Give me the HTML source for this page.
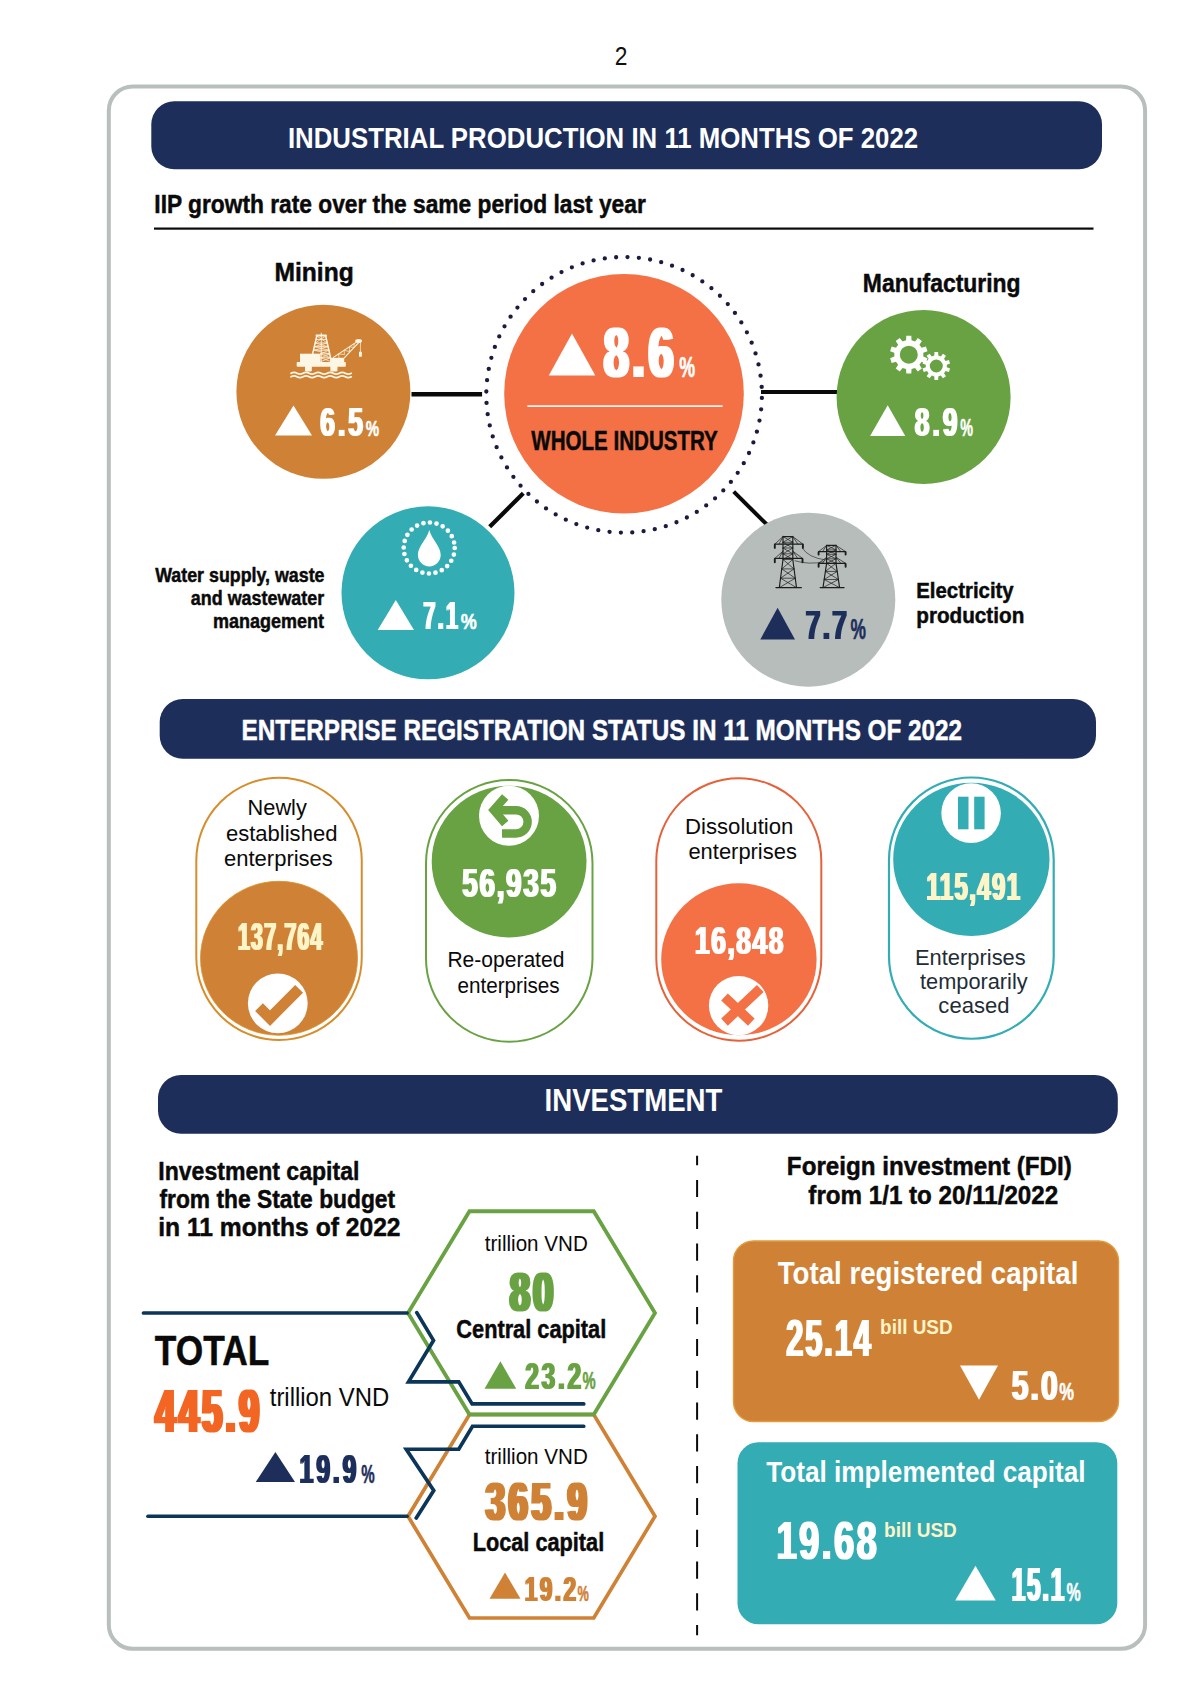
<!DOCTYPE html>
<html lang="en">
<head>
<meta charset="utf-8">
<title>Industrial production, enterprise registration and investment - 11 months of 2022</title>
<style>
html,body{margin:0;padding:0;background:#fff}
body{width:1200px;height:1697px;overflow:hidden}
svg{display:block;font-family:"Liberation Sans",sans-serif}
.s{stroke-width:0.45px;vector-effect:non-scaling-stroke;stroke-linejoin:round}
</style>
</head>
<body>
<svg width="1200" height="1697" viewBox="0 0 1200 1697">
<defs>
<filter id="fat2" x="-5%" y="-10%" width="110%" height="120%"><feMorphology operator="dilate" radius="1 0"/></filter>
<filter id="fat3" x="-5%" y="-10%" width="110%" height="120%"><feMorphology operator="dilate" radius="2 0"/></filter>
</defs>
<!-- outer frame -->
<rect x="108.8" y="86.5" width="1036.3" height="1562.3" rx="24" ry="24" fill="#fff" stroke="#b8bfbd" stroke-width="4"/>

<!-- section banners -->
<rect x="151.3" y="101.3" width="950.7" height="67.9" rx="23" fill="#1e2e5b"/>
<rect x="159.7" y="699" width="936.3" height="59.8" rx="23" fill="#1e2e5b"/>
<rect x="158" y="1075" width="959.8" height="58.8" rx="23" fill="#1e2e5b"/>

<!-- heading rule -->
<rect x="154" y="227.5" width="939.5" height="2.2" fill="#0a0a0a"/>

<!-- connectors -->
<g stroke="#0a0a0a" stroke-width="4" fill="none">
<line x1="411.5" y1="394.3" x2="482.1" y2="394.3" stroke-width="4.4"/>
<line x1="761" y1="392" x2="838" y2="392"/>
<line x1="489.7" y1="526.7" x2="523.3" y2="493.2" stroke-width="4.2"/>
<line x1="733.7" y1="491.7" x2="767.3" y2="525"/>
</g>

<!-- IIP circles -->
<circle cx="323.4" cy="391.8" r="87" fill="#cf8235"/>
<circle cx="624" cy="393.7" r="119.8" fill="#f37145"/>
<circle cx="624.1" cy="394.8" r="137.8" fill="none" stroke="#1b1b3f" stroke-width="4.3" stroke-linecap="round" stroke-dasharray="0 11.3925" transform="rotate(1.3 624.1 394.8)"/>
<circle cx="923.6" cy="397" r="87" fill="#69a243"/>
<circle cx="428" cy="592.8" r="86.5" fill="#33acb4"/>
<circle cx="808.3" cy="599.7" r="87" fill="#b6bdbb"/>
<rect x="527.3" y="405.3" width="195.3" height="1.6" fill="#fff"/>

<!-- growth triangles -->
<path d="M275 435.5L293.5 405.5L312 435.5Z" fill="#fff"/>
<path d="M548.8 375.6L572 333.5L595.3 375.6Z" fill="#fff"/>
<path d="M870.1 435.9L887.7 405.2L905.3 435.9Z" fill="#fff"/>
<path d="M377.7 630L395.8 600L414 630Z" fill="#fff"/>
<path d="M760.3 639.4L777.6 607.8L795 639.4Z" fill="#1e2e5b"/>

<!-- enterprise pills -->
<rect x="196.3" y="777.8" width="165.45" height="262.2" rx="82.7" fill="#fff" stroke="#d68d2c" stroke-width="2"/>
<ellipse cx="279" cy="958.3" rx="78.5" ry="77" fill="#cf8235" stroke="#dc922a" stroke-width="0.8"/>
<circle cx="277.8" cy="1003.3" r="29.9" fill="#fff"/>
<rect x="426" y="780" width="166.5" height="261.75" rx="83.2" fill="#fff" stroke="#69a243" stroke-width="2"/>
<ellipse cx="509.1" cy="861.6" rx="77.4" ry="75.9" fill="#69a243"/>
<circle cx="509" cy="815.8" r="30" fill="#fff"/>
<rect x="656.3" y="778.25" width="165" height="262.45" rx="82.5" fill="#fff" stroke="#e5613a" stroke-width="2"/>
<ellipse cx="738.9" cy="959.3" rx="77.7" ry="76" fill="#f37145"/>
<circle cx="738.6" cy="1005.6" r="29.7" fill="#fff"/>
<rect x="889" y="777.5" width="164.7" height="261.25" rx="82.35" fill="#fff" stroke="#33acb4" stroke-width="2.2"/>
<ellipse cx="971.35" cy="859.3" rx="78.15" ry="76.6" fill="#33acb4"/>
<circle cx="971.1" cy="813.1" r="29.8" fill="#fff"/>
<rect x="958" y="796.7" width="10.5" height="32.6" fill="#33acb4"/>
<rect x="974.2" y="796.7" width="10.4" height="32.6" fill="#33acb4"/>

<!-- investment: hexagons and rails -->
<path d="M408 1516.25L469.5 1414.5L593.75 1414.5L655 1516.25L593.75 1618L469.5 1618Z" fill="none" stroke="#cf8235" stroke-width="3.7" stroke-linejoin="miter"/>
<path d="M408 1313L469.5 1211.25L593.75 1211.25L655 1313L593.75 1414.5L469.5 1414.5Z" fill="none" stroke="#69a243" stroke-width="3.8" stroke-linejoin="miter"/>
<g fill="none" stroke="#0b3659" stroke-width="3.7" stroke-linecap="round" stroke-linejoin="miter">
<path d="M143.5 1313L407 1313"/>
<path d="M416.8 1312.6L433.5 1340.4L408.5 1381.8L458.75 1381.8L472.1 1403.9L583.75 1403.9"/>
<path d="M583.75 1426.25L472.5 1426.25L458.75 1449.25L406.25 1449.25L433.75 1490.5L416.25 1518"/>
<path d="M148 1516.25L407 1516.25"/>
</g>
<path d="M484.5 1388.75L500.4 1361.25L516.25 1388.75Z" fill="#69a243"/>
<path d="M489.5 1598.75L505 1572.5L520.5 1598.75Z" fill="#cf8235"/>
<path d="M255.75 1482L275.4 1452L295 1482Z" fill="#1e2e5b"/>

<!-- divider -->
<line x1="697.1" y1="1155.8" x2="697.1" y2="1635.2" stroke="#0a0a0a" stroke-width="2" stroke-dasharray="17.2 14.6" stroke-dashoffset="7.7"/>

<!-- FDI cards -->
<rect x="733.5" y="1241" width="385" height="180.5" rx="20" fill="#cf8235" stroke="#e39a3c" stroke-width="1.4"/>
<rect x="737.5" y="1442.25" width="379.8" height="182" rx="21" fill="#33acb4"/>
<path d="M960 1365.5L998 1365.5L979 1399.7Z" fill="#fff"/>
<path d="M955.2 1600.5L975.5 1565.8L995.8 1600.5Z" fill="#fff"/>

<!-- icon: offshore rig -->
<g fill="#fdf6e4" stroke="none">
<rect x="296.7" y="362" width="49.1" height="4.8" rx="0.8"/>
<rect x="305" y="366" width="6.8" height="5.4" rx="1.2"/>
<rect x="330.4" y="366" width="7.1" height="5.4" rx="1.2"/>
<rect x="300" y="353.7" width="20.6" height="8.6"/>
<rect x="330" y="357.8" width="14.2" height="4.6"/>
<rect x="315.6" y="334.5" width="11.2" height="1.9" rx="0.6"/>
<rect x="359" y="351.7" width="2.9" height="5" rx="0.4"/>
<ellipse cx="358.6" cy="341" rx="3.4" ry="1.9"/>
</g>
<g fill="none" stroke="#fdf6e4" stroke-linecap="round">
<path stroke-width="1.5" d="M316.8 336L312.6 354M325.7 336L330.6 358"/>
<path stroke-width="0.9" d="M321.25 333.2L321.25 361.8M316 339.4L326.5 339.4M315.2 343L327.3 343M314.4 346.7L328.1 346.7M313.6 350.2L328.9 350.2M320.5 353.9L329.8 353.9M320.5 357.8L330.6 357.8"/>
<path stroke-width="0.7" d="M316.8 336L327.3 343L314.4 346.7L328.9 350.2M325.7 336L315.2 343L328.1 346.7L313.6 350.2L329.8 353.9L321 357.8L330.6 361.5M328.9 350.2L320.5 353.9L330.6 357.8L321 361.5"/>
<path stroke-width="1.1" d="M333.4 357.4L357.2 341.6M344.2 357.8L358.2 343.2"/>
<path stroke-width="0.7" d="M339 357.6L338.5 354L344.5 354.5L344 350.3L349.5 351.5L349.3 346.8L354 347.5L354.2 343.6"/>
<path stroke-width="0.7" d="M360.45 342.5L360.45 351.8"/>
<g stroke-width="1.7"><path d="M291.00 373.30Q294.01 371.50 297.03 373.30Q300.04 375.10 303.06 373.30Q306.08 371.50 309.09 373.30Q312.11 375.10 315.12 373.30Q318.13 371.50 321.15 373.30Q324.16 375.10 327.18 373.30Q330.20 371.50 333.21 373.30Q336.23 375.10 339.24 373.30Q342.25 371.50 345.27 373.30Q348.28 375.10 351.30 373.30"/><path d="M291.00 376.80Q294.01 375.00 297.03 376.80Q300.04 378.60 303.06 376.80Q306.08 375.00 309.09 376.80Q312.11 378.60 315.12 376.80Q318.13 375.00 321.15 376.80Q324.16 378.60 327.18 376.80Q330.20 375.00 333.21 376.80Q336.23 378.60 339.24 376.80Q342.25 375.00 345.27 376.80Q348.28 378.60 351.30 376.80"/></g>
</g>

<!-- icon: gears -->
<path d="M906.06 340.36L906.30 335.87L911.30 335.87L911.54 340.36L915.02 341.49L917.85 337.99L921.89 340.93L919.44 344.71L921.59 347.67L925.94 346.50L927.49 351.26L923.28 352.87L923.28 356.53L927.49 358.14L925.94 362.90L921.59 361.73L919.44 364.69L921.89 368.47L917.85 371.41L915.02 367.91L911.54 369.04L911.30 373.53L906.30 373.53L906.06 369.04L902.58 367.91L899.75 371.41L895.71 368.47L898.16 364.69L896.01 361.73L891.66 362.90L890.11 358.14L894.32 356.53L894.32 352.87L890.11 351.26L891.66 346.50L896.01 347.67L898.16 344.71L895.71 340.93L899.75 337.99L902.58 341.49ZM917.80 354.70A9 9 0 1 0 899.80 354.70A9 9 0 1 0 917.80 354.70Z" fill="#fff" fill-rule="evenodd"/>
<path d="M934.31 355.59L934.46 352.12L938.14 352.12L938.29 355.59L940.81 356.41L942.97 353.69L945.95 355.85L944.03 358.74L945.59 360.89L948.93 359.96L950.07 363.46L946.82 364.67L946.82 367.33L950.07 368.54L948.93 372.04L945.59 371.11L944.03 373.26L945.95 376.15L942.97 378.31L940.81 375.59L938.29 376.41L938.14 379.88L934.46 379.88L934.31 376.41L931.79 375.59L929.63 378.31L926.65 376.15L928.57 373.26L927.01 371.11L923.67 372.04L922.53 368.54L925.78 367.33L925.78 364.67L922.53 363.46L923.67 359.96L927.01 360.89L928.57 358.74L926.65 355.85L929.63 353.69L931.79 356.41ZM942.80 366.00A6.5 6.5 0 1 0 929.80 366.00A6.5 6.5 0 1 0 942.80 366.00Z" fill="#fff" fill-rule="evenodd"/>

<!-- icon: water drop -->
<circle cx="429.2" cy="548" r="25.5" fill="none" stroke="#fff" stroke-width="4.7" stroke-linecap="round" stroke-dasharray="0 6.676"/>
<path d="M429.3 530C431.8 539.5 440.7 546 440.7 555A11.4 11.4 0 0 1 417.9 555C417.9 546 426.8 539.5 429.3 530Z" fill="#fff"/>

<!-- icon: pylons -->
<g fill="none" stroke="#1c1c1c" stroke-linecap="round">
<path stroke-width="1.15" d="M783.0 536.6L783.0 559.5M792.8 536.6L792.8 559.5M783.0 559.5L779.3 587.6M792.8 559.5L796.5 587.6M775.9 587.6L801.4 587.6M783.0 536.6L792.8 536.6M774.8 544.1L802.9 544.1M774.8 558.4L802.5 558.4M826.6 545.4L826.6 563.3M836.0 545.4L836.0 563.3M826.6 563.3L823.0 587.6M836.0 563.3L839.6 587.6M820.1 587.6L844.1 587.6M826.6 545.4L836.0 545.4M818.6 551.6L845.6 551.6M818.6 563.3L845.6 563.3"/>
<path stroke-width="0.7" d="M783.0 536.6L774.8 544.1M792.8 536.6L802.9 544.1M783.0 536.6L778.9 544.1M792.8 536.6L797.9 544.1M783.0 551.2L774.8 558.4M792.8 551.2L802.5 558.4M783.0 551.2L778.9 558.4M792.8 551.2L797.7 558.4M783.0 536.6L792.8 542.3M792.8 536.6L783.0 542.3M783.0 542.3L792.8 542.3M783.0 542.3L792.8 548.0M792.8 542.3L783.0 548.0M783.0 548.0L792.8 548.0M783.0 548.0L792.8 553.8M792.8 548.0L783.0 553.8M783.0 553.8L792.8 553.8M783.0 553.8L792.8 559.5M792.8 553.8L783.0 559.5M783.0 559.5L792.8 559.5M783.0 559.5L794.0 568.9M792.8 559.5L781.8 568.9M781.8 568.9L794.0 568.9M781.8 568.9L795.3 578.2M794.0 568.9L780.5 578.2M780.5 578.2L795.3 578.2M780.5 578.2L796.5 587.6M795.3 578.2L779.3 587.6M826.6 545.4L818.6 551.6M836.0 545.4L845.6 551.6M826.6 545.4L822.6 551.6M836.0 545.4L840.8 551.6M826.6 557.3L818.6 563.3M836.0 557.3L845.6 563.3M826.6 557.3L822.6 563.3M836.0 557.3L840.8 563.3M826.6 545.4L836.0 549.9M836.0 545.4L826.6 549.9M826.6 549.9L836.0 549.9M826.6 549.9L836.0 554.3M836.0 549.9L826.6 554.3M826.6 554.3L836.0 554.3M826.6 554.3L836.0 558.8M836.0 554.3L826.6 558.8M826.6 558.8L836.0 558.8M826.6 558.8L836.0 563.3M836.0 558.8L826.6 563.3M826.6 563.3L836.0 563.3M826.6 563.3L837.2 571.4M836.0 563.3L825.4 571.4M825.4 571.4L837.2 571.4M825.4 571.4L838.4 579.5M837.2 571.4L824.2 579.5M824.2 579.5L838.4 579.5M824.2 579.5L839.6 587.6M838.4 579.5L823.0 587.6"/>
<path stroke-width="1.9" d="M774.8 544.7L774.8 547.9M802.9 544.7L802.9 547.9M774.8 559.0L774.8 562.2M802.5 559.0L802.5 562.2M818.6 552.2L818.6 554.6M845.6 552.2L845.6 554.6M818.6 563.9L818.6 566.7M845.6 563.9L845.6 566.7"/>
<path stroke-width="0.6" d="M802.6 548.3Q808 557.5 825.5 560M795 560.8Q809 565 823.5 561.8"/>
</g>

<!-- icon: check -->
<path d="M259 1007.1L270 1018.1L299.1 988.8" fill="none" stroke="#cf8235" stroke-width="11" stroke-linejoin="miter"/>
<!-- icon: return arrow -->
<g fill="none" stroke="#69a243" stroke-width="8.4">
<path d="M502 833.5L516 833.5A11.65 11.65 0 0 0 516 810.2L493 810.2"/>
<path d="M505.2 796.9L493.7 810.1L505.2 823.4" stroke-linejoin="miter"/>
</g>
<!-- icon: cross -->
<g fill="none" stroke="#f37145" stroke-width="9.7">
<path d="M760.3 988.5L724.5 1022.1M724.5 997L751.3 1022.1"/>
</g>

<g id="labels">
<text transform="translate(614.86 64.50) scale(0.9130 1)" font-size="25.00" fill="#111">2</text>
<text transform="translate(287.95 148.00) scale(0.8603 1)" font-size="30.00" font-weight="bold" fill="#ffffff">INDUSTRIAL PRODUCTION IN 11 MONTHS OF 2022</text>
<text class="s" stroke="#ffffff" transform="translate(241.54 740.30) scale(0.8062 1)" font-size="30.14" font-weight="bold" fill="#ffffff">ENTERPRISE REGISTRATION STATUS IN 11 MONTHS OF 2022</text>
<text transform="translate(544.59 1111.25) scale(0.8589 1)" font-size="32.14" font-weight="bold" fill="#ffffff">INVESTMENT</text>
<text class="s" stroke="#0a0a0a" transform="translate(154.33 213.00) scale(0.8979 1)" font-size="25.34" font-weight="bold" fill="#0a0a0a">IIP growth rate over the same period last year</text>
<text class="s" stroke="#0a0a0a" transform="translate(274.52 280.75) scale(0.9582 1)" font-size="25.68" font-weight="bold" fill="#0a0a0a">Mining</text>
<text class="s" stroke="#0a0a0a" transform="translate(862.82 292.10) scale(0.8623 1)" font-size="26.58" font-weight="bold" fill="#0a0a0a">Manufacturing</text>
<g filter="url(#fat2)"><text transform="translate(320.31 435.60) scale(0.6527 1)" font-size="40.57" font-weight="bold" letter-spacing="4.46" fill="#ffffff">6.5</text></g>
<text class="s" stroke="#ffffff" transform="translate(365.70 435.60) scale(0.6672 1)" font-size="22.57" font-weight="bold" fill="#ffffff">%</text>
<g filter="url(#fat3)"><text transform="translate(603.65 377.00) scale(0.6450 1)" font-size="70.00" font-weight="bold" letter-spacing="5.60" fill="#ffffff">8.6</text></g>
<text class="s" stroke="#ffffff" transform="translate(679.24 377.00) scale(0.6259 1)" font-size="28.57" font-weight="bold" fill="#ffffff">%</text>
<text class="s" stroke="#0a0a0a" transform="translate(531.30 449.90) scale(0.7384 1)" font-size="27.86" font-weight="bold" fill="#0a0a0a">WHOLE INDUSTRY</text>
<g filter="url(#fat2)"><text transform="translate(914.81 436.10) scale(0.6357 1)" font-size="41.57" font-weight="bold" letter-spacing="4.57" fill="#ffffff">8.9</text></g>
<text class="s" stroke="#ffffff" transform="translate(960.21 436.00) scale(0.6016 1)" font-size="23.86" font-weight="bold" fill="#ffffff">%</text>
<text class="s" stroke="#0a0a0a" transform="translate(155.20 581.70) scale(0.9002 1)" font-size="19.80" font-weight="bold" fill="#0a0a0a">Water supply, waste</text>
<text class="s" stroke="#0a0a0a" transform="translate(190.84 605.00) scale(0.9048 1)" font-size="19.80" font-weight="bold" fill="#0a0a0a">and wastewater</text>
<text class="s" stroke="#0a0a0a" transform="translate(213.12 628.30) scale(0.9091 1)" font-size="19.80" font-weight="bold" fill="#0a0a0a">management</text>
<g filter="url(#fat2)"><text transform="translate(423.45 629.30) scale(0.5625 1)" font-size="38.00" font-weight="bold" letter-spacing="4.18" fill="#ffffff">7.1</text></g>
<text class="s" stroke="#ffffff" transform="translate(460.84 629.30) scale(0.8235 1)" font-size="21.86" font-weight="bold" fill="#ffffff">%</text>
<text class="s" stroke="#0a0a0a" transform="translate(916.28 598.30) scale(0.9615 1)" font-size="21.20" font-weight="bold" fill="#0a0a0a">Electricity</text>
<text class="s" stroke="#0a0a0a" transform="translate(916.26 623.30) scale(0.9766 1)" font-size="21.20" font-weight="bold" fill="#0a0a0a">production</text>
<g filter="url(#fat2)"><text transform="translate(805.75 639.00) scale(0.6400 1)" font-size="41.00" font-weight="bold" letter-spacing="3.69" fill="#1e2e5b">7.7</text></g>
<text class="s" stroke="#1e2e5b" transform="translate(850.60 639.00) scale(0.6074 1)" font-size="28.57" font-weight="bold" fill="#1e2e5b">%</text>
<text transform="translate(247.56 814.60) scale(0.9907 1)" font-size="22.00" fill="#0a0a0a">Newly</text>
<text transform="translate(225.92 840.70) scale(1.0020 1)" font-size="22.00" fill="#0a0a0a">established</text>
<text transform="translate(224.02 866.30) scale(1.0001 1)" font-size="22.00" fill="#0a0a0a">enterprises</text>
<g filter="url(#fat2)"><text transform="translate(238.03 950.30) scale(0.5478 1)" font-size="38.71" font-weight="bold" letter-spacing="2.32" fill="#fdf4c8">137,764</text></g>
<g filter="url(#fat2)"><text transform="translate(462.36 896.50) scale(0.6850 1)" font-size="40.71" font-weight="bold" letter-spacing="2.44" fill="#ffffff">56,935</text></g>
<text transform="translate(447.42 967.20) scale(0.9564 1)" font-size="22.00" fill="#0a0a0a">Re-operated</text>
<text transform="translate(457.47 992.50) scale(0.9395 1)" font-size="22.00" fill="#0a0a0a">enterprises</text>
<text transform="translate(684.98 833.75) scale(1.0080 1)" font-size="22.00" fill="#0a0a0a">Dissolution</text>
<text transform="translate(688.42 859.25) scale(0.9968 1)" font-size="22.00" fill="#0a0a0a">enterprises</text>
<g filter="url(#fat2)"><text transform="translate(695.02 954.30) scale(0.6788 1)" font-size="38.71" font-weight="bold" letter-spacing="2.32" fill="#ffffff">16,848</text></g>
<g filter="url(#fat2)"><text transform="translate(926.47 900.25) scale(0.6076 1)" font-size="39.29" font-weight="bold" letter-spacing="2.36" fill="#fdf4c8">115,491</text></g>
<text transform="translate(915.00 964.80) scale(0.9963 1)" font-size="22.00" fill="#1f2d36">Enterprises</text>
<text transform="translate(919.98 988.80) scale(0.9904 1)" font-size="22.00" fill="#1f2d36">temporarily</text>
<text transform="translate(938.37 1012.80) scale(1.0025 1)" font-size="22.00" fill="#1f2d36">ceased</text>
<text class="s" stroke="#0a0a0a" transform="translate(158.32 1180.00) scale(0.9072 1)" font-size="25.40" font-weight="bold" fill="#0a0a0a">Investment capital</text>
<text class="s" stroke="#0a0a0a" transform="translate(159.47 1207.50) scale(0.8988 1)" font-size="25.40" font-weight="bold" fill="#0a0a0a">from the State budget</text>
<text class="s" stroke="#0a0a0a" transform="translate(158.22 1236.25) scale(0.9705 1)" font-size="25.40" font-weight="bold" fill="#0a0a0a">in 11 months of 2022</text>
<text class="s" stroke="#0a0a0a" transform="translate(154.85 1364.50) scale(0.8241 1)" font-size="42.86" font-weight="bold" fill="#0a0a0a">TOTAL</text>
<g filter="url(#fat3)"><text transform="translate(155.14 1431.60) scale(0.5865 1)" font-size="62.00" font-weight="bold" letter-spacing="5.58" fill="#f26522">445.9</text></g>
<text transform="translate(269.76 1405.60) scale(0.9136 1)" font-size="26.16" fill="#0a0a0a">trillion VND</text>
<g filter="url(#fat2)"><text transform="translate(299.50 1482.80) scale(0.6140 1)" font-size="40.71" font-weight="bold" letter-spacing="4.48" fill="#1e2e5b">19.9</text></g>
<text class="s" stroke="#1e2e5b" transform="translate(361.15 1483.00) scale(0.5879 1)" font-size="25.71" font-weight="bold" fill="#1e2e5b">%</text>
<text transform="translate(484.79 1251.25) scale(0.9369 1)" font-size="22.00" fill="#0a0a0a">trillion VND</text>
<g filter="url(#fat3)"><text transform="translate(509.70 1310.50) scale(0.6516 1)" font-size="56.14" font-weight="bold" letter-spacing="4.49" fill="#69a243">80</text></g>
<text class="s" stroke="#0a0a0a" transform="translate(456.33 1337.50) scale(0.8467 1)" font-size="25.70" font-weight="bold" fill="#0a0a0a">Central capital</text>
<g filter="url(#fat2)"><text transform="translate(525.26 1388.75) scale(0.6673 1)" font-size="36.79" font-weight="bold" letter-spacing="4.05" fill="#69a243">23.2</text></g>
<text class="s" stroke="#69a243" transform="translate(582.40 1388.75) scale(0.6386 1)" font-size="23.21" font-weight="bold" fill="#69a243">%</text>
<text transform="translate(484.79 1463.75) scale(0.9369 1)" font-size="22.00" fill="#0a0a0a">trillion VND</text>
<g filter="url(#fat3)"><text transform="translate(485.80 1519.50) scale(0.6493 1)" font-size="53.57" font-weight="bold" letter-spacing="5.36" fill="#cf8235">365.9</text></g>
<text class="s" stroke="#0a0a0a" transform="translate(472.65 1551.25) scale(0.8455 1)" font-size="25.70" font-weight="bold" fill="#0a0a0a">Local capital</text>
<g filter="url(#fat2)"><text transform="translate(524.64 1601.25) scale(0.6325 1)" font-size="35.71" font-weight="bold" letter-spacing="3.93" fill="#cf8235">19.2</text></g>
<text class="s" stroke="#cf8235" transform="translate(577.44 1601.25) scale(0.5957 1)" font-size="21.43" font-weight="bold" fill="#cf8235">%</text>
<text class="s" stroke="#0a0a0a" transform="translate(786.85 1175.30) scale(0.9679 1)" font-size="25.00" font-weight="bold" fill="#0a0a0a">Foreign investment (FDI)</text>
<text class="s" stroke="#0a0a0a" transform="translate(808.36 1204.40) scale(0.9669 1)" font-size="25.00" font-weight="bold" fill="#0a0a0a">from 1/1 to 20/11/2022</text>
<text transform="translate(777.72 1283.75) scale(0.8978 1)" font-size="30.82" font-weight="bold" fill="#ffffff">Total registered capital</text>
<g filter="url(#fat2)"><text transform="translate(786.33 1356.25) scale(0.5873 1)" font-size="52.50" font-weight="bold" letter-spacing="3.15" fill="#ffffff">25.14</text></g>
<text transform="translate(880.12 1333.75) scale(0.9748 1)" font-size="19.40" font-weight="bold" fill="#fdf4c8">bill USD</text>
<g filter="url(#fat2)"><text transform="translate(1011.70 1399.90) scale(0.7036 1)" font-size="42.71" font-weight="bold" letter-spacing="2.99" fill="#ffffff">5.0</text></g>
<text class="s" stroke="#ffffff" transform="translate(1059.37 1399.90) scale(0.7037 1)" font-size="23.57" font-weight="bold" fill="#ffffff">%</text>
<text transform="translate(766.24 1482.30) scale(0.8647 1)" font-size="30.27" font-weight="bold" fill="#ffffff">Total implemented capital</text>
<g filter="url(#fat2)"><text transform="translate(776.56 1558.80) scale(0.6894 1)" font-size="53.00" font-weight="bold" letter-spacing="3.18" fill="#ffffff">19.68</text></g>
<text transform="translate(884.06 1536.75) scale(0.9789 1)" font-size="19.40" font-weight="bold" fill="#fdf4c8">bill USD</text>
<g filter="url(#fat2)"><text transform="translate(1011.79 1600.50) scale(0.5101 1)" font-size="47.83" font-weight="bold" letter-spacing="3.35" fill="#ffffff">15.1</text></g>
<text class="s" stroke="#ffffff" transform="translate(1066.38 1600.50) scale(0.6137 1)" font-size="26.07" font-weight="bold" fill="#ffffff">%</text>
</g>
</svg>
</body>
</html>
